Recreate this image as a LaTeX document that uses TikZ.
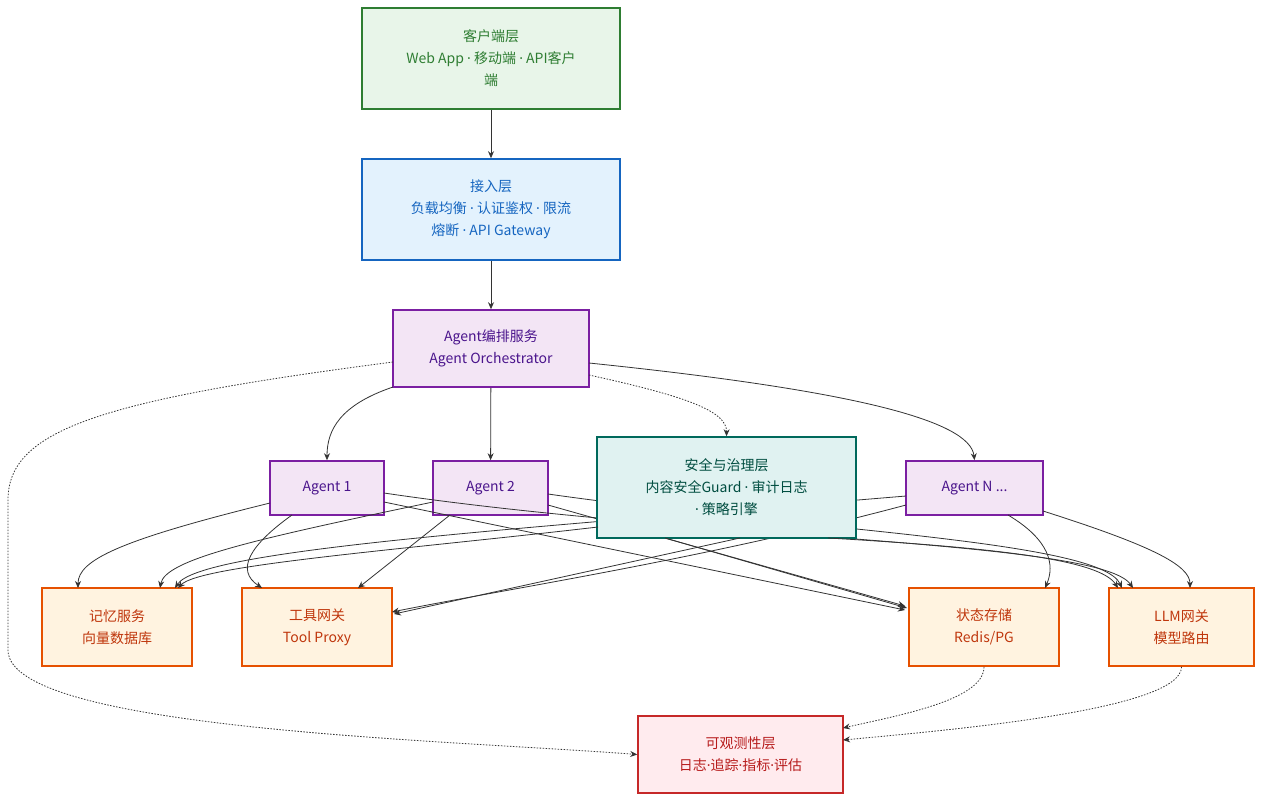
\documentclass[tikz,border=0pt]{standalone}
\usepackage{fontspec}
\setmainfont{Noto Sans CJK SC}
\newfontfamily\latf{Noto Sans}
\newcommand\dt{{\latf ·}}
\usetikzlibrary{arrows.meta}
\definecolor{gF}{HTML}{E8F5E9}\definecolor{gS}{HTML}{2E7D32}
\definecolor{bF}{HTML}{E3F2FD}\definecolor{bS}{HTML}{1565C0}
\definecolor{pF}{HTML}{F3E5F5}\definecolor{pS}{HTML}{7B1FA2}\definecolor{pT}{HTML}{4A148C}
\definecolor{tF}{HTML}{E0F2F1}\definecolor{tS}{HTML}{00695C}\definecolor{tT}{HTML}{004D40}
\definecolor{oF}{HTML}{FFF3E0}\definecolor{oS}{HTML}{E65100}\definecolor{oT}{HTML}{BF360C}
\definecolor{rF}{HTML}{FFEBEE}\definecolor{rS}{HTML}{C62828}\definecolor{rT}{HTML}{B71C1C}
\definecolor{ln}{HTML}{333333}
\begin{document}
\begin{tikzpicture}[x=1pt,y=-1pt,font=\fontsize{14}{22}\selectfont,
 box/.style={draw,line width=1.6pt,align=center,inner sep=0pt},
 e/.style={draw=ln,line width=0.8pt,-{Stealth[length=7pt,width=6pt]}},
 d/.style={e,dash pattern=on 1.5pt off 1.5pt}]
\useasboundingbox (0,0) rectangle (1271,806);
\node[box,fill=gF,draw=gS,text=gS,minimum width=258pt,minimum height=101pt] (cl) at (491,58.5) {客户端层\\Web App \dt{} 移动端 \dt{} API客户\\端};
\node[box,fill=bF,draw=bS,text=bS,minimum width=258pt,minimum height=101pt] (ac) at (491,209.5) {接入层\\负载均衡 \dt{} 认证鉴权 \dt{} 限流\\熔断 \dt{} API Gateway};
\node[box,fill=pF,draw=pS,text=pT,minimum width=196pt,minimum height=77pt] (or) at (491,348.5) {Agent编排服务\\Agent Orchestrator};
\node[box,fill=pF,draw=pS,text=pT,minimum width=114pt,minimum height=54pt] (a1) at (327,488) {Agent 1};
\node[box,fill=pF,draw=pS,text=pT,minimum width=115pt,minimum height=54pt] (a2) at (490.5,488) {Agent 2};
\node[box,fill=pF,draw=pS,text=pT,minimum width=137pt,minimum height=54pt] (an) at (974.5,488) {Agent N ...};
\node[box,fill=oF,draw=oS,text=oT,minimum width=150pt,minimum height=78pt] (me) at (117,627) {记忆服务\\向量数据库};
\node[box,fill=oF,draw=oS,text=oT,minimum width=150pt,minimum height=78pt] (to) at (317,627) {工具网关\\Tool Proxy};
\node[box,fill=oF,draw=oS,text=oT,minimum width=150pt,minimum height=78pt] (st) at (984,627) {状态存储\\Redis/PG};
\node[box,fill=oF,draw=oS,text=oT,minimum width=145pt,minimum height=78pt] (ll) at (1181.5,627) {LLM网关\\模型路由};
\node[box,fill=rF,draw=rS,text=rT,minimum width=205pt,minimum height=77pt] (ob) at (740.5,754.5) {可观测性层\\日志\dt{}追踪\dt{}指标\dt{}评估};
% agent edges (behind guard)
\draw[e] (270,503) .. controls (120,540) and (78,560) .. (78,588);
\draw[e] (292,515) .. controls (250,545) and (235,570) .. (262,588);
\draw[e] (384,502) -- (905,610);
\draw[e] (384,493) .. controls (700,540) and (1100,540) .. (1133,588);
\draw[e] (433,502) .. controls (250,540) and (165,560) .. (160,588);
\draw[e] (450,515) -- (358,588);
\draw[e] (548,505) -- (905,606);
\draw[e] (548,494) .. controls (800,530) and (1100,540) .. (1122,588);
\draw[e] (906,496) .. controls (500,530) and (200,550) .. (175,588);
\draw[e] (906,505) .. controls (700,560) and (500,590) .. (392,612);
\draw[e] (1008,515) .. controls (1050,540) and (1055,565) .. (1045,588);
\draw[e] (1043,511) .. controls (1150,545) and (1190,565) .. (1190,588);
\node[box,fill=tF,draw=tS,text=tT,minimum width=259pt,minimum height=101pt] (gu) at (726.5,487.5) {安全与治理层\\内容安全Guard \dt{} 审计日志\\\dt{} 策略引擎};
% guard edges
\draw[e] (598,527) .. controls (400,550) and (200,565) .. (178,588);
\draw[e] (740,538) -- (394,614);
\draw[e] (665,538) -- (907,608);
\draw[e] (828,538) .. controls (1000,548) and (1100,560) .. (1118,588);
% top edges
\draw[e] (cl) -- (ac);
\draw[e] (ac) -- (or);
\draw[e] (or) -- (a2);
\draw[e] (393,387) .. controls (340,405) and (327,430) .. (a1.north);
\draw[e] (589,363) .. controls (850,390) and (970,420) .. (an.north);
\draw[d] (589,375) .. controls (680,395) and (727,410) .. (gu.north);
\draw[d] (393,362) .. controls (100,400) and (8,430) .. (8,500) -- (8,650) .. controls (8,730) and (450,740) .. (ob.west);
\draw[d] (st.south) .. controls (984,700) and (900,715) .. (843,728);
\draw[d] (ll.south) .. controls (1182,710) and (950,730) .. (843,740);
\end{tikzpicture}
\end{document}
